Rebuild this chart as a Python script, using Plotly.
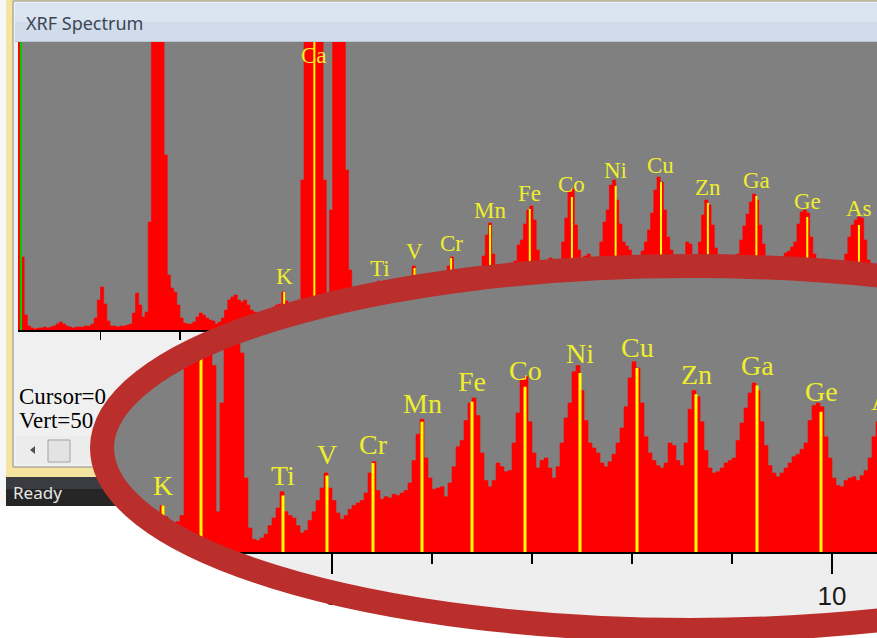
import numpy as np
import plotly.graph_objects as go

W, H = 877, 638
BIN_KEV = 0.04

# ---------------- spectrum: counts per 0.04 keV channel ----------------
start_0 = -0.04
counts_0 = [6000, 730, 150, 40, 20, 10, 20, 20, 30, 20, 30, 40, 60, 80, 60, 40,
            30, 20, 30, 30, 30, 40, 40, 60, 120, 300]
start_1 = 1.00
counts_1 = [430, 260, 90, 40, 40, 30, 40, 40, 50, 60, 170, 370, 250, 130, 180,
            1080, 6000, 6000, 6000, 6000, 1750, 550, 420, 380, 250]
start_2 = 2.00
counts_2 = [120, 70, 60, 60, 80, 130, 170, 150, 120, 100, 90, 60, 80, 120, 200,
            300, 330, 350, 300, 280, 300, 250, 200, 180, 170]
start_3 = 3.00
counts_3 = [150, 160, 180, 200, 230, 250, 260, 380, 290, 250, 240, 250, 300, 1500,
            6000, 8000, 8000, 8000, 8000, 5000, 1500, 330, 1200, 5000, 5000]
start_4 = 4.00
counts_4 = [5000, 5000, 1600, 600, 200, 110, 100, 120, 150, 220, 280, 360, 490, 330,
            300, 280, 220, 160, 180, 260, 330, 420, 520, 640, 520]
start_5 = 5.00
counts_5 = [420, 320, 270, 300, 350, 380, 400, 420, 480, 640, 730, 500, 430, 450,
            440, 470, 460, 480, 500, 560, 740, 950, 1070, 760, 600]
start_6 = 6.00
counts_6 = [510, 520, 530, 450, 560, 690, 850, 900, 1060, 1200, 1240, 1100, 800, 580,
            530, 580, 720, 690, 650, 660, 880, 1120, 1390, 1410, 1050]
start_7 = 7.00
counts_7 = [800, 680, 740, 760, 680, 600, 690, 880, 1080, 1200, 1450, 1500, 1300, 1060,
            880, 840, 800, 720, 690, 730, 790, 880, 1000, 1170, 1400]
start_8 = 8.00
counts_8 = [1530, 1480, 1200, 930, 800, 740, 700, 680, 720, 880, 860, 740, 700, 880,
            1150, 1300, 1250, 1050, 820, 680, 640, 650, 680, 720, 740]
start_9 = 9.00
counts_9 = [760, 900, 1040, 1160, 1280, 1360, 1300, 1050, 860, 700, 640, 610, 640, 680,
            720, 770, 790, 830, 880, 1060, 1180, 1200, 1170, 930, 760]
start_10 = 10.00
counts_10 = [600, 540, 530, 580, 600, 610, 580, 620, 660, 760, 930, 1050, 1100, 1130,
             1120, 900, 700, 560, 500, 480, 470]

seg_starts = [start_0, start_1, start_2, start_3, start_4, start_5,
              start_6, start_7, start_8, start_9, start_10]
seg_counts = [counts_0, counts_1, counts_2, counts_3, counts_4, counts_5,
              counts_6, counts_7, counts_8, counts_9, counts_10]

# ---------------- element markers ----------------
elements = ["K", "Ca", "Ti", "V", "Cr", "Mn", "Fe", "Co", "Ni", "Cu", "Zn", "Ga", "Ge", "As"]
element_kev = [3.31, 3.69, 4.51, 4.95, 5.41, 5.90, 6.40, 6.93, 7.48, 8.05, 8.64, 9.25, 9.89, 10.54]
marker_counts = [380, 9000, 460, 620, 720, 1050, 1210, 1330, 1440, 1480, 1270, 1340, 1130, 1050]
label_counts = [540, 2750, 620, 790, 865, 1195, 1370, 1460, 1600, 1645, 1425, 1500, 1290, 1220]

# ---------------- axis ticks ----------------
top_ticks = [1, 2, 3, 4, 5, 6, 7, 8, 9, 10]
zoom_major_ticks = [5, 10]
zoom_major_text = ["5", "10"]
zoom_minor_ticks = [4, 6, 7, 8, 9]

# ---------------- layout geometry ----------------
def px(x):
    return x / W


def py(y):
    return 1 - y / H


X1_DOM = [px(18), 1.0]
X1_RANGE = [(18 - 21) / 79.5, (877 - 21) / 79.5]
Y1_DOM = [py(330), py(42)]
Y1_RANGE = [0, 2880]

X2_DOM = [px(102), 1.0]
X2_RANGE = [2.70, 10.45]
Y2_DOM = [py(553), py(256)]
Y2_RANGE = [0, (553 - 256) * 8]

# magnifier ellipse (in zoomed-axis units)
ELL_E, ELL_C = 8.58, 840.0
ELL_A, ELL_B = 5.88, 1456.0


def x2_to_paper(e):
    return X2_DOM[0] + (e - X2_RANGE[0]) / (X2_RANGE[1] - X2_RANGE[0]) * (X2_DOM[1] - X2_DOM[0])


def y2_to_paper(c):
    return Y2_DOM[0] + (c - Y2_RANGE[0]) / (Y2_RANGE[1] - Y2_RANGE[0]) * (Y2_DOM[1] - Y2_DOM[0])


def ell_half(e):
    e = np.asarray(e, dtype=float)
    return ELL_B * np.sqrt(np.clip(1 - ((e - ELL_E) / ELL_A) ** 2, 0, None))


energy = np.concatenate([s + BIN_KEV * np.arange(len(c)) for s, c in zip(seg_starts, seg_counts)])
counts = np.concatenate([np.asarray(c, dtype=float) for c in seg_counts])

RED = "#ff0000"
YEL = "#ffff00"
LBL = "#eeee2c"

fig = go.Figure()

# ---- top window spectrum ----
fig.add_trace(go.Scatter(x=energy, y=counts, mode="lines", line=dict(shape="hv", width=0.6, color=RED),
                         fill="tozeroy", fillcolor=RED, xaxis="x", yaxis="y", hoverinfo="skip"))
fig.add_trace(go.Scatter(x=[0, 0], y=[0, Y1_RANGE[1]], mode="lines", line=dict(color="#00cc00", width=2),
                         xaxis="x", yaxis="y", hoverinfo="skip"))
mx, my = [], []
for e, h in zip(element_kev, marker_counts):
    mx += [e, e, None]
    my += [0, h, None]
fig.add_trace(go.Scatter(x=mx, y=my, mode="lines", line=dict(color=YEL, width=2),
                         xaxis="x", yaxis="y", hoverinfo="skip"))

# ---- magnified spectrum, limited to the inside of the magnifier ----
half = np.minimum(ell_half(energy), ell_half(energy + BIN_KEV))
upper_lim = ELL_C + half
lower_lim = np.maximum(0, ELL_C - half)
sel = (energy >= 2.6) & (energy <= 10.6)
vis = np.clip(counts, lower_lim, upper_lim)
fig.add_trace(go.Scatter(x=energy[sel], y=lower_lim[sel], mode="lines",
                         line=dict(shape="hv", width=0, color=RED), xaxis="x2", yaxis="y2", hoverinfo="skip"))
fig.add_trace(go.Scatter(x=energy[sel], y=vis[sel], mode="lines", line=dict(shape="hv", width=0.6, color=RED),
                         fill="tonexty", fillcolor=RED, xaxis="x2", yaxis="y2", hoverinfo="skip"))
zx, zy = [], []
for e, h in zip(element_kev, marker_counts):
    hh = float(ell_half(e))
    lo, hi = max(0.0, ELL_C - hh), min(h, ELL_C + hh)
    if hi > lo:
        zx += [e, e, None]
        zy += [lo, hi, None]
fig.add_trace(go.Scatter(x=zx, y=zy, mode="lines", line=dict(color=YEL, width=3),
                         xaxis="x2", yaxis="y2", hoverinfo="skip"))

# ---------------- shapes ----------------
def rect(x0, y0, x1, y1, fill, line=None, lw=0, layer="below"):
    return dict(type="rect", xref="paper", yref="paper", x0=px(x0), x1=px(x1), y0=py(y1), y1=py(y0),
                fillcolor=fill, line=dict(color=line or fill, width=lw), layer=layer)


shapes = [
    rect(0, 0, 880, 520, "#f7f7f7"),
    rect(6, -2, 880, 477, "#f5e4a0"),
    rect(13, 1, 880, 467, "#f0f0f0", "#8c8c8c", 1),
    rect(15, 3, 880, 22, "#dae5f1"),
    rect(15, 22, 880, 42, "#d0dcea"),
    rect(15, 41, 880, 42, "#b9c6d4"),
    rect(18, 42, 880, 330, "#808080"),
    rect(16, 436, 880, 464, "#ececec"),
    rect(48, 440, 70, 462, "#e3e3e3", "#a3a3a3", 1),
    rect(6, 477, 880, 506, "#262626"),
    rect(6, 477, 880, 489, "#3a3c41"),
    rect(0, 506, 880, 640, "#ffffff"),
    dict(type="path", xref="paper", yref="paper", layer="below",
         path="M %f %f L %f %f L %f %f Z" % (px(30), py(450), px(35), py(446), px(35), py(454)),
         fillcolor="#505050", line=dict(width=0)),
    # light panel inside the magnifier (below the zoomed axis)
    dict(type="circle", xref="paper", yref="paper", layer="below",
         x0=x2_to_paper(ELL_E - ELL_A), x1=x2_to_paper(ELL_E + ELL_A),
         y0=y2_to_paper(ELL_C - ELL_B), y1=y2_to_paper(ELL_C + ELL_B),
         fillcolor="#eeeeee", line=dict(width=0)),
    # gray plot area inside the magnifier
    dict(type="circle", xref="x2", yref="y2", layer="below",
         x0=ELL_E - ELL_A, x1=ELL_E + ELL_A, y0=ELL_C - ELL_B, y1=ELL_C + ELL_B,
         fillcolor="#808080", line=dict(width=0)),
    # zoomed axis baseline
    dict(type="line", xref="paper", yref="paper", layer="above",
         x0=x2_to_paper(3.9), x1=1.01, y0=y2_to_paper(0), y1=y2_to_paper(0),
         line=dict(color="#000000", width=2)),
    # magnifier ring
    dict(type="circle", xref="paper", yref="paper", layer="above",
         x0=x2_to_paper(ELL_E - ELL_A), x1=x2_to_paper(ELL_E + ELL_A),
         y0=y2_to_paper(ELL_C - ELL_B), y1=y2_to_paper(ELL_C + ELL_B),
         fillcolor="rgba(0,0,0,0)", line=dict(color="#ba2e2b", width=24)),
]

# ---------------- annotations ----------------
ann = []


def text(t, x, y, size, color, family, xanchor="left"):
    ann.append(dict(text=t, x=px(x), y=py(y), xref="paper", yref="paper", xanchor=xanchor,
                    yanchor="middle", showarrow=False, font=dict(size=size, color=color, family=family)))


text("XRF Spectrum", 24, 23, 18, "#3b4756", "Noto Sans")
text("Cursor=0", 17, 396, 23, "#000000", "Liberation Serif")
text("Vert=50", 17, 420, 23, "#000000", "Liberation Serif")
text("Ready", 11, 492, 17, "#e6e6e6", "Noto Sans")

for el, e, c in zip(elements, element_kev, label_counts):
    ann.append(dict(text=el, x=e, y=c, xref="x", yref="y", xanchor="center", yanchor="middle",
                    showarrow=False, font=dict(size=23, color=LBL, family="Liberation Serif")))
    if e <= X2_RANGE[1]:
        ann.append(dict(text=el, x=e, y=c, xref="x2", yref="y2", xanchor="center", yanchor="middle",
                        showarrow=False, font=dict(size=28, color=LBL, family="Liberation Serif")))
    else:
        ann.append(dict(text=el, x=x2_to_paper(e), y=c, xref="paper", yref="y2", xanchor="center",
                        yanchor="middle", showarrow=False,
                        font=dict(size=28, color=LBL, family="Liberation Serif")))

fig.update_layout(
    width=W, height=H, autosize=False,
    margin=dict(l=0, r=0, t=0, b=0, pad=0),
    paper_bgcolor="#ffffff", plot_bgcolor="rgba(0,0,0,0)",
    showlegend=False, hovermode=False,
    shapes=shapes, annotations=ann,
    xaxis=dict(domain=X1_DOM, range=X1_RANGE, anchor="y", tickmode="array", tickvals=top_ticks,
               ticks="outside", ticklen=8, tickwidth=1.5, tickcolor="#000000", showticklabels=False,
               showline=True, linecolor="#000000", linewidth=2, showgrid=False, zeroline=False,
               fixedrange=True),
    yaxis=dict(domain=Y1_DOM, range=Y1_RANGE, anchor="x", visible=False, fixedrange=True),
    xaxis2=dict(domain=X2_DOM, range=X2_RANGE, anchor="y2", tickmode="array", tickvals=zoom_major_ticks,
                ticktext=zoom_major_text, ticks="outside", ticklen=20, tickwidth=2, tickcolor="#000000",
                minor=dict(tickmode="array", tickvals=zoom_minor_ticks, ticks="outside", ticklen=10,
                           tickwidth=2, tickcolor="#000000"),
                tickfont=dict(size=26, color="#1a1a1a", family="Liberation Sans"),
                showline=False, showgrid=False, zeroline=False, fixedrange=True),
    yaxis2=dict(domain=Y2_DOM, range=Y2_RANGE, anchor="x2", visible=False, fixedrange=True),
)

fig.write_html("out.html", config={"displayModeBar": False, "staticPlot": True},
               post_script="document.body.style.margin='0';document.body.style.overflow='hidden';")
